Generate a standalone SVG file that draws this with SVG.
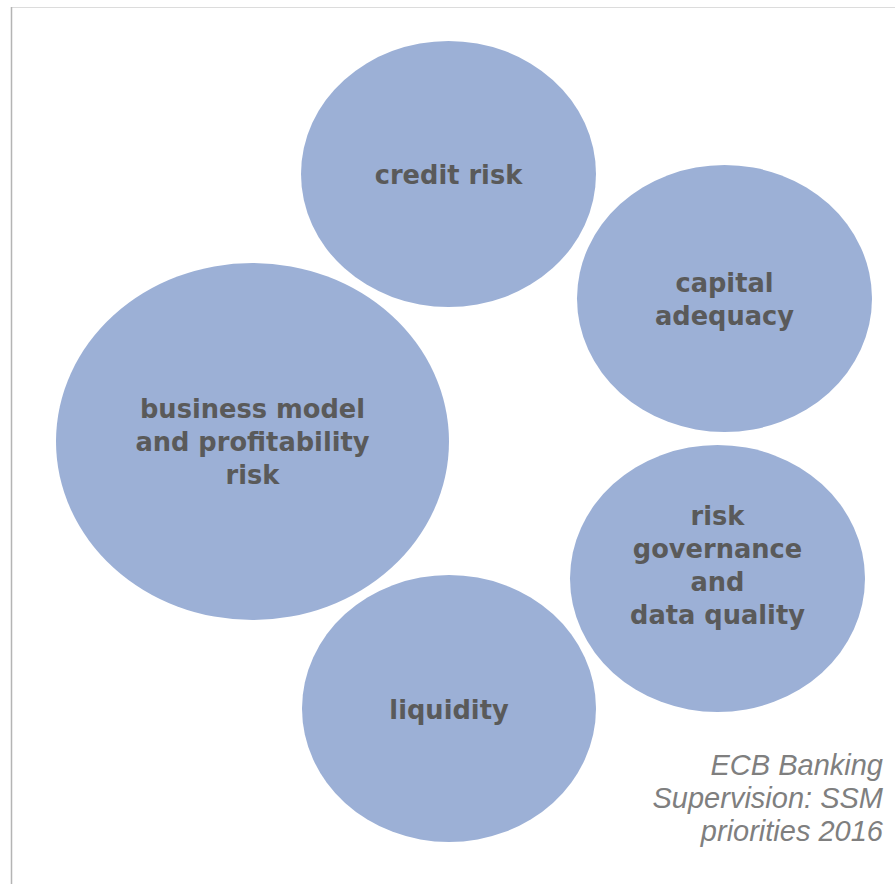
<svg xmlns="http://www.w3.org/2000/svg" width="895" height="884" viewBox="0 0 895 884">
  <defs>
    <filter id="soft" x="-50%" y="-50%" width="200%" height="200%">
      <feGaussianBlur stdDeviation="1.5"/>
    </filter>
    <style>
      .bubble { fill: #9cb0d6; }
      .label { font-family: "DejaVu Sans", "Liberation Sans", sans-serif; font-weight: bold; font-size: 25.7px; fill: #5a5a5a; text-anchor: middle; }
      .caption { font-family: "Liberation Sans", Arial, sans-serif; font-style: italic; font-size: 29px; fill: #7f7f7f; text-anchor: end; }
    </style>
  </defs>

  <rect width="895" height="884" fill="#ffffff"/>

  <!-- page frame with a soft shadow on the left and top -->
  <g id="frame">
    <line x1="9" y1="8" x2="9" y2="884" stroke="#cfcfcf" stroke-width="3" filter="url(#soft)"/>
    <line x1="11" y1="6" x2="895" y2="6" stroke="#e2e2e2" stroke-width="2" filter="url(#soft)"/>
    <line x1="11" y1="7.5" x2="895" y2="7.5" stroke="#dcdcdc" stroke-width="1"/>
    <line x1="11.5" y1="7" x2="11.5" y2="884" stroke="#b4b4b4" stroke-width="1.5"/>
  </g>

  <g id="credit-risk">
    <ellipse class="bubble" cx="448.5" cy="174" rx="147.5" ry="133"/>
    <text class="label" x="448.5" y="184">credit risk</text>
  </g>

  <g id="capital-adequacy">
    <ellipse class="bubble" cx="724.5" cy="298.5" rx="147.5" ry="133.5"/>
    <text class="label" x="724.5" y="292">capital</text>
    <text class="label" x="724.5" y="325">adequacy</text>
  </g>

  <g id="business-model">
    <ellipse class="bubble" cx="252.5" cy="441.5" rx="196.5" ry="178.5"/>
    <text class="label" x="252.5" y="418">business model</text>
    <text class="label" x="252.5" y="451">and profitability</text>
    <text class="label" x="252.5" y="484">risk</text>
  </g>

  <g id="risk-governance">
    <ellipse class="bubble" cx="717.5" cy="578.5" rx="147.5" ry="133.5"/>
    <text class="label" x="717.5" y="525">risk</text>
    <text class="label" x="717.5" y="558">governance</text>
    <text class="label" x="717.5" y="591">and</text>
    <text class="label" x="717.5" y="624">data quality</text>
  </g>

  <g id="liquidity">
    <ellipse class="bubble" cx="449" cy="708.5" rx="147" ry="133.5"/>
    <text class="label" x="449" y="719">liquidity</text>
  </g>

  <g id="connectors"/>

  <g id="caption">
    <text class="caption" x="883" y="775">ECB Banking</text>
    <text class="caption" x="883" y="808">Supervision: SSM</text>
    <text class="caption" x="883" y="841">priorities 2016</text>
  </g>
</svg>
